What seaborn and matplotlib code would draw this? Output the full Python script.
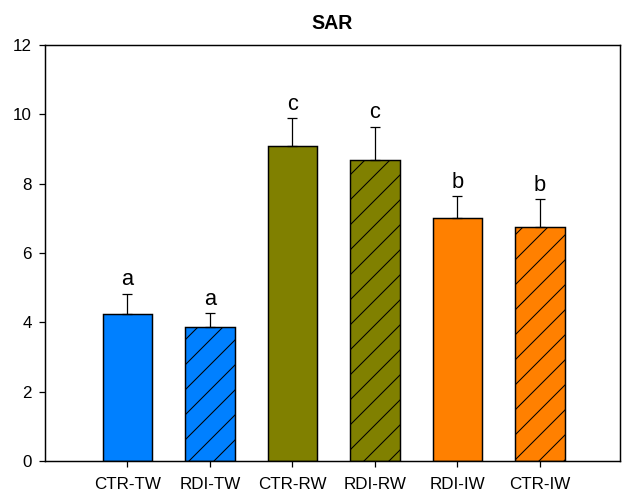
import numpy as np
import matplotlib
matplotlib.use('Agg')
import matplotlib.pyplot as plt
import seaborn as sns

# ── Data ──────────────────────────────────────────────────────────────────────
treatments = ['CTR-TW', 'RDI-TW', 'CTR-RW', 'RDI-RW', 'RDI-IW', 'CTR-IW']
sar_mean   = [4.24, 3.88, 9.09, 8.70, 7.00, 6.76]
sar_err    = [0.59, 0.38, 0.81, 0.95, 0.65, 0.80]
letters    = ['a', 'a', 'c', 'c', 'b', 'b']
bar_colors = ['#0080FF', '#0080FF', '#808000', '#808000', '#FF8000', '#FF8000']
hatched    = [False, True, False, True, False, True]

sns.set_style('white')
plt.rcParams['font.family'] = ['Liberation Sans', 'DejaVu Sans']
plt.rcParams['hatch.linewidth'] = 0.5
plt.rcParams['hatch.color'] = 'black'
plt.rcParams['text.color'] = 'black'
plt.rcParams['xtick.color'] = 'black'
plt.rcParams['ytick.color'] = 'black'

DPI = 150
fig = plt.figure(figsize=(625 / DPI, 491 / DPI), dpi=DPI)
ax = fig.add_axes([0.072, 0.061, 0.92, 0.847])

sns.barplot(x=treatments, y=sar_mean, hue=treatments, palette=bar_colors,
            width=0.6, edgecolor='black', linewidth=0.7, legend=False,
            saturation=1, ax=ax)
for patch, h in zip(ax.patches, hatched):
    if h:
        patch.set_hatch('//')

# one-sided error bars, SigmaPlot style
xpos = np.arange(len(treatments))
ax.errorbar(xpos, sar_mean, yerr=[np.zeros(len(sar_err)), sar_err],
            fmt='none', ecolor='black', elinewidth=0.6, capsize=2.6,
            capthick=0.6, zorder=1)
for x, m, e, l in zip(xpos, sar_mean, sar_err, letters):
    ax.text(x, m + e + 0.24, l, ha='center', va='baseline', fontsize=10.5)

ax.set_xlim(-1.0, 5.97)
ax.set_ylim(0, 12)
ax.set_yticks(range(0, 13, 2))
ax.tick_params(axis='both', direction='out', length=2.8, width=0.6,
               labelsize=8.2, bottom=True, left=True)
ax.tick_params(axis='x', pad=5.0)
ax.tick_params(axis='y', pad=3.4)
for s in ax.spines.values():
    s.set_visible(True)
    s.set_linewidth(0.7)
    s.set_color('black')
ax.set_xlabel('')
ax.set_ylabel('')
ax.set_title('SAR', fontsize=9.4, fontweight='bold', pad=8)

fig.savefig('out.png', dpi=DPI, facecolor='white')
